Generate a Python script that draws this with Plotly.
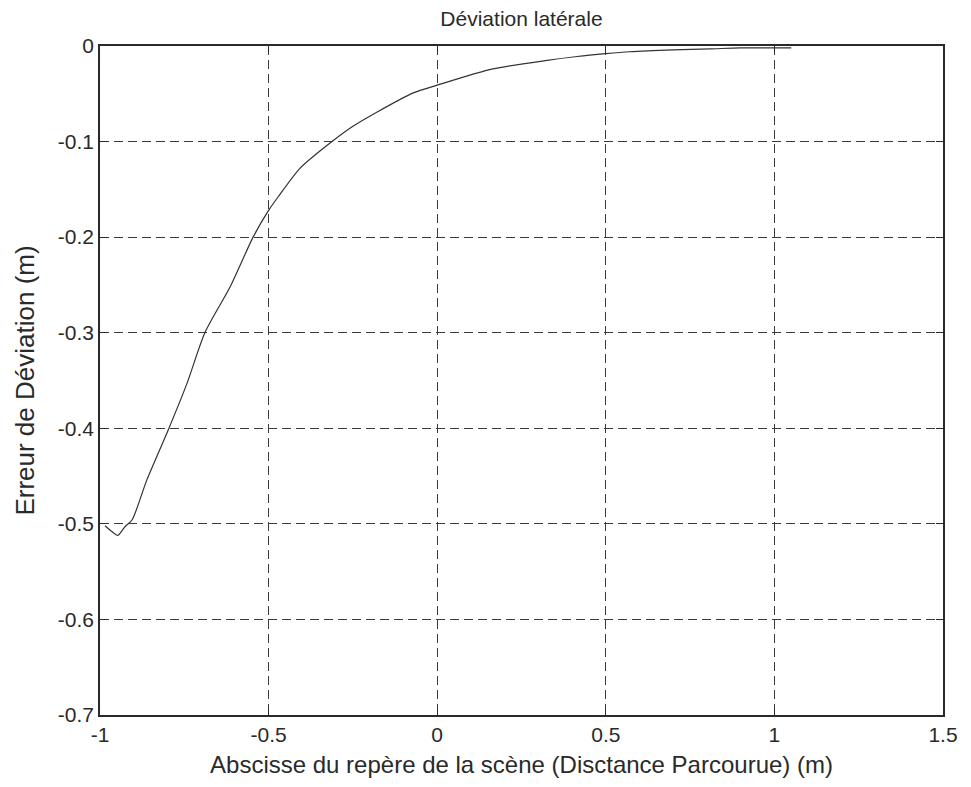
import plotly.graph_objects as go

x_vals = [-0.985, -0.965, -0.947, -0.926, -0.905, -0.861, -0.798, -0.742, -0.689,
          -0.614, -0.546, -0.500, -0.472, -0.407, -0.312, -0.250, -0.178, -0.071,
          0.0, 0.165, 0.326, 0.415, 0.500, 0.570, 0.700, 0.810, 0.900, 1.050]
y_vals = [-0.502, -0.508, -0.512, -0.503, -0.496, -0.454, -0.402, -0.353, -0.300,
          -0.252, -0.200, -0.172, -0.158, -0.128, -0.100, -0.084, -0.069, -0.049,
          -0.041, -0.024, -0.015, -0.011, -0.008, -0.006, -0.004, -0.003, -0.002, -0.002]

x_ticks = [-1, -0.5, 0, 0.5, 1, 1.5]
x_tick_labels = ["-1", "-0.5", "0", "0.5", "1", "1.5"]
y_ticks = [0, -0.1, -0.2, -0.3, -0.4, -0.5, -0.6, -0.7]
y_tick_labels = ["0", "-0.1", "-0.2", "-0.3", "-0.4", "-0.5", "-0.6", "-0.7"]

font_family = "Liberation Sans, Arial, sans-serif"
ink = "#2a2a2a"

fig = go.Figure()
fig.add_trace(go.Scatter(x=x_vals, y=y_vals, mode="lines",
                         line=dict(color="#333333", width=1.2, shape="spline", smoothing=0.7),
                         showlegend=False))

axis_common = dict(
    showline=True, linecolor=ink, linewidth=1.5, mirror="ticks",
    ticks="inside", ticklen=7, tickcolor=ink, automargin=False,
    showgrid=True, gridcolor="#3a3a3a", griddash="9px,5px", gridwidth=1,
    zeroline=False, tickfont=dict(family=font_family, size=21, color=ink),
)

fig.update_xaxes(range=[-1, 1.5], tickvals=x_ticks, ticktext=x_tick_labels,
                 title=dict(text="Abscisse du repère de la scène (Disctance Parcourue) (m)",
                            font=dict(family=font_family, size=24, color=ink), standoff=11),
                 **axis_common)
fig.update_yaxes(range=[-0.7, 0], tickvals=y_ticks, ticktext=y_tick_labels,
                 title=dict(text="Erreur de Déviation (m)",
                            font=dict(family=font_family, size=26, color=ink), standoff=16),
                 **axis_common)

fig.update_layout(
    width=955, height=771,
    margin=dict(l=92, r=20, t=38, b=64),
    paper_bgcolor="white", plot_bgcolor="white",
    title=dict(text="Déviation latérale", x=0.5, xanchor="center",
               xref="paper", yref="container", y=1.0, yanchor="top",
               pad=dict(t=3), automargin=False,
               font=dict(family=font_family, size=21, color=ink)),
)

fig.write_html("out.html")
